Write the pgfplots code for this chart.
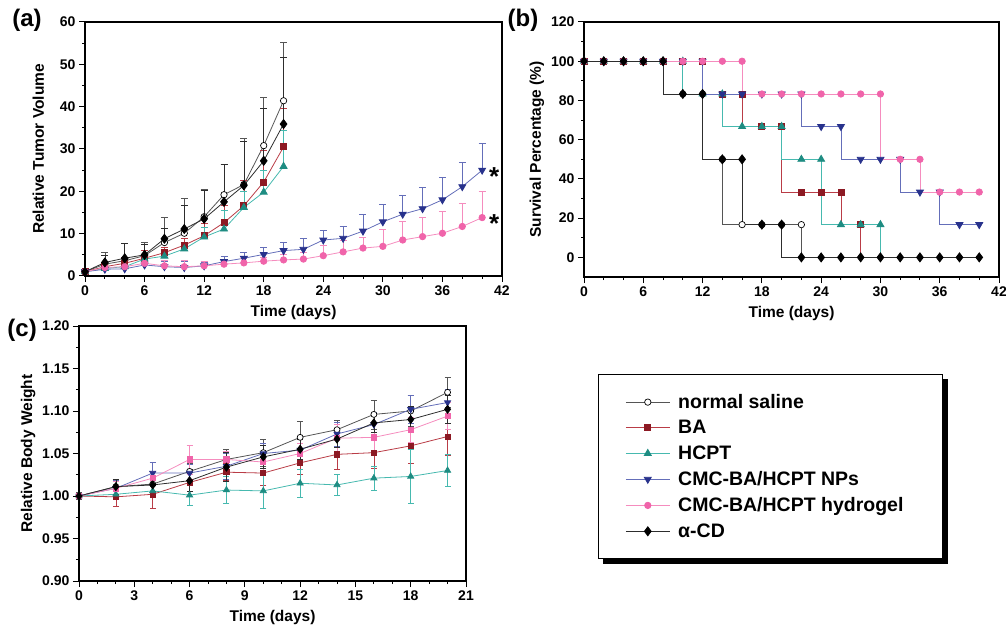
\documentclass[border=0pt]{standalone}
\usepackage{fontspec}
\setmainfont{Liberation Sans}
\usepackage{pgfplots}
\pgfplotsset{compat=1.18}

\definecolor{cSal}{RGB}{85,85,85}
\definecolor{cBAm}{RGB}{140,25,35}
\definecolor{cBAl}{RGB}{185,60,70}
\definecolor{cHCm}{RGB}{30,140,130}
\definecolor{cHCl}{RGB}{70,185,175}
\definecolor{cNPm}{RGB}{40,50,140}
\definecolor{cNPl}{RGB}{100,110,185}
\definecolor{cHGm}{RGB}{240,100,170}
\definecolor{cHGl}{RGB}{245,140,190}
\definecolor{cCDl}{RGB}{45,45,45}

\pgfplotsset{
  panel/.style={
    scale only axis, clip=false, anchor=south west,
    axis line style={line width=1.4pt},
    tick align=outside, xtick pos=bottom, ytick pos=left,
    major tick length=6pt, minor tick length=3pt,
    tick style={line width=1pt, black},
    tick label style={font=\fontsize{14}{16}\selectfont\bfseries},
    label style={font=\fontsize{15.5}{18}\selectfont\bfseries},
    xlabel shift=3pt,
    /pgf/number format/assume math mode=true,
    error bars/error bar style={line width=0.7pt},
    error bars/error mark options={rotate=90, mark size=3.5pt, line width=0.7pt},
  },
  sal/.style={color=cSal, line width=0.8pt, mark=*, mark size=3.2pt,
    mark options={draw=black, fill=white, line width=0.7pt}},
  ba/.style={color=cBAl, line width=0.8pt, mark=square*, mark size=3pt,
    mark options={draw=cBAm, fill=cBAm}},
  hc/.style={color=cHCl, line width=0.8pt, mark=triangle*, mark size=4pt,
    mark options={draw=cHCm, fill=cHCm}},
  np/.style={color=cNPl, line width=0.8pt, mark=triangle*, mark size=4pt,
    mark options={draw=cNPm, fill=cNPm, rotate=180}},
  hg/.style={color=cHGl, line width=0.8pt, mark=*, mark size=3.2pt,
    mark options={draw=cHGm, fill=cHGm}},
  cd/.style={color=cCDl, line width=0.8pt, mark=diamond*, mark size=4.5pt,
    mark options={draw=black, fill=black}},
}

\begin{document}
\begin{tikzpicture}
\path[use as bounding box] (0,0) rectangle (1006pt,624pt);

% ---------- (a) tumor volume ----------
\begin{axis}[panel, at={(85pt,348pt)}, width=417pt, height=254pt,
  xmin=0, xmax=42, ymin=0, ymax=60,
  xtick={0,6,...,42}, ytick={0,10,...,60},
  minor x tick num=2, minor y tick num=1,
  xlabel={Time (days)}, ylabel={Relative Tumor Volume}, ylabel shift=9pt,
  error bars/y dir=plus, error bars/y explicit]

\addplot[sal] table[x=x, y=y, y error=e] {
x y e
0 1.0 0.5
2 2.8 2.7
4 3.6 4.0
6 4.8 3.2
8 7.9 5.9
10 10.1 8.3
12 14.0 6.4
14 19.2 7.1
16 21.6 10.9
18 30.8 11.3
20 41.4 13.9
};
\addplot[ba] table[x=x, y=y, y error=e] {
x y e
0 1.0 0.3
2 2.2 1.0
4 3.0 1.5
6 4.2 1.8
8 5.5 1.2
10 7.3 1.7
12 9.5 3.0
14 12.6 4.2
16 16.6 5.9
18 22.2 7.4
20 30.5 9.1
};
\addplot[hc] table[x=x, y=y, y error=e] {
x y e
0 1.0 0.3
2 1.8 0.7
4 2.2 0.8
6 4.0 1.0
8 4.7 1.3
10 6.4 1.6
12 9.2 2.3
14 11.1 4.4
16 16.2 3.8
18 19.8 5.2
20 25.9 8.6
};
\addplot[np] table[x=x, y=y, y error=e] {
x y e
0 1.0 0.3
2 1.6 0.9
4 1.7 0.8
6 2.6 0.9
8 2.2 1.3
10 2.0 1.5
12 2.4 0.9
14 3.4 1.3
16 4.2 1.5
18 5.1 1.7
20 6.0 2.0
22 6.3 2.5
24 8.5 2.2
26 8.9 2.8
28 10.6 4.0
30 12.8 4.1
32 14.6 4.4
34 15.9 5.0
36 18.0 5.2
38 21.1 5.7
40 25.0 6.4
};
\addplot[hg] table[x=x, y=y, y error=e] {
x y e
0 1.0 0.3
2 2.0 0.8
4 2.2 1.0
6 3.0 1.2
8 2.4 1.3
10 2.2 1.4
12 2.4 1.0
14 2.8 1.0
16 3.1 1.0
18 3.5 1.0
20 3.8 1.2
22 4.0 1.5
24 4.8 2.5
26 5.7 2.8
28 6.6 2.5
30 7.0 4.0
32 8.5 4.3
34 9.3 4.6
36 10.1 5.1
38 11.7 5.5
40 13.8 6.3
};
\addplot[cd] table[x=x, y=y, y error=e] {
x y e
0 1.0 0.4
2 3.2 1.6
4 4.2 3.4
6 5.0 2.5
8 8.8 2.5
10 11.1 5.7
12 13.5 6.7
14 17.5 8.8
16 21.4 10.4
18 27.2 12.3
20 35.9 15.7
};
\node[font=\fontsize{26}{26}\selectfont\bfseries] at (axis cs:40,25) [xshift=12pt, yshift=-6pt] {*};
\node[font=\fontsize{26}{26}\selectfont\bfseries] at (axis cs:40,13.8) [xshift=12pt, yshift=-6pt] {*};
\node[font=\fontsize{24}{24}\selectfont\bfseries] at (rel axis cs:-0.139,1.008) {(a)};
\end{axis}

% ---------- (b) survival ----------
\begin{axis}[panel, at={(584pt,347pt)}, width=415pt, height=255pt,
  xmin=0, xmax=42, ymin=-10, ymax=120,
  xtick={0,6,...,42}, ytick={0,20,...,120},
  minor x tick num=2, minor y tick num=1,
  xlabel={Time (days)}, ylabel={Survival Percentage (\%)},
  every axis plot/.append style={const plot mark right},
  legend image code/.code={%
    \draw[#1, sharp plot, mark=none] (0pt,0pt) -- (44pt,0pt);
    \draw[#1, sharp plot, only marks] plot coordinates {(22pt,0pt)};
    \path (50pt,0pt);},
  legend cell align=left,
  legend style={at={(rel axis cs:0.0337,-0.380)}, anchor=north west,
    name=leg, draw=black, line width=0.8pt, fill=white,
    font=\fontsize{19.5}{22}\selectfont\bfseries,
    inner xsep=27pt, inner ysep=18pt, row sep=6.5pt},
]
\addplot[sal] coordinates {(0,100)(2,100)(4,100)(6,100)(8,100)(10,83.3)(12,83.3)(14,50)(16,16.7)(18,16.7)(20,16.7)(22,16.7)};
\addlegendentry{normal saline}
\addplot[ba] coordinates {(0,100)(2,100)(4,100)(6,100)(8,100)(10,100)(12,100)(14,83.3)(16,83.3)(18,66.7)(20,66.7)(22,33.3)(24,33.3)(26,33.3)(28,16.7)};
\addlegendentry{BA}
\addplot[hc] coordinates {(0,100)(2,100)(4,100)(6,100)(8,100)(10,100)(12,83.3)(14,83.3)(16,66.7)(18,66.7)(20,66.7)(22,50)(24,50)(26,16.7)(28,16.7)(30,16.7)};
\addlegendentry{HCPT}
\addplot[np] coordinates {(0,100)(2,100)(4,100)(6,100)(8,100)(10,100)(12,100)(14,83.3)(16,83.3)(18,83.3)(20,83.3)(22,83.3)(24,66.7)(26,66.7)(28,50)(30,50)(32,50)(34,33.3)(36,33.3)(38,16.7)(40,16.7)};
\addlegendentry{CMC-BA/HCPT NPs}
\addplot[hg] coordinates {(0,100)(2,100)(4,100)(6,100)(8,100)(10,100)(12,100)(14,100)(16,100)(18,83.3)(20,83.3)(22,83.3)(24,83.3)(26,83.3)(28,83.3)(30,83.3)(32,50)(34,50)(36,33.3)(38,33.3)(40,33.3)};
\addlegendentry{CMC-BA/HCPT hydrogel\hspace*{10pt}}
\addplot[sal, no marks, forget plot] coordinates {(22,16.7)(24,0)};
\addplot[ba, no marks, forget plot] coordinates {(28,16.7)(30,0)};
\addplot[hc, no marks, forget plot] coordinates {(30,16.7)(32,0)};
\addplot[cd] coordinates {(0,100)(2,100)(4,100)(6,100)(8,100)(10,83.3)(12,83.3)(14,50)(16,50)(18,16.7)(20,16.7)(22,0)(24,0)(26,0)(28,0)(30,0)(32,0)(34,0)(36,0)(38,0)(40,0)};
\addlegendentry{α-CD}
\node[font=\fontsize{24}{24}\selectfont\bfseries] at (rel axis cs:-0.147,1.008) {(b)};
\end{axis}

% shadow of the legend box
\fill[black] ([yshift=-5pt]leg.north east) rectangle ([xshift=5pt,yshift=-5pt]leg.south east);
\fill[black] ([xshift=5pt]leg.south west) rectangle ([xshift=5pt,yshift=-5pt]leg.south east);

% ---------- (c) body weight ----------
\begin{axis}[panel, at={(79pt,43pt)}, width=387pt, height=255pt,
  xmin=0, xmax=21, ymin=0.9, ymax=1.2,
  xtick={0,3,...,21}, ytick={0.90,0.95,1.00,1.05,1.10,1.15,1.20},
  minor x tick num=2, minor y tick num=1,
  yticklabel style={/pgf/number format/.cd, fixed, fixed zerofill, precision=2},
  xlabel={Time (days)}, ylabel={Relative Body Weight},
  error bars/y dir=both, error bars/y explicit,
  error bars/error mark options={rotate=90, mark size=3pt, line width=0.7pt},
]
\addplot[sal, mark size=3pt] table[x=x, y=y, y error=e] {
x y e
0 1.000 0.004
2 1.011 0.009
4 1.014 0.010
6 1.029 0.010
8 1.043 0.012
10 1.051 0.016
12 1.069 0.019
14 1.078 0.011
16 1.096 0.017
18 1.100 0.018
20 1.122 0.018
};
\addplot[ba, mark size=2.6pt] table[x=x, y=y, y error=e] {
x y e
0 1.000 0.003
2 0.999 0.011
4 1.002 0.016
6 1.016 0.010
8 1.028 0.010
10 1.027 0.015
12 1.039 0.014
14 1.049 0.018
16 1.051 0.018
18 1.059 0.021
20 1.070 0.022
};
\addplot[hc, mark size=3.5pt] table[x=x, y=y, y error=e] {
x y e
0 1.000 0.003
2 1.002 0.005
4 1.006 0.006
6 1.001 0.012
8 1.007 0.016
10 1.006 0.021
12 1.015 0.016
14 1.013 0.012
16 1.021 0.014
18 1.023 0.032
20 1.030 0.019
};
\addplot[np, mark size=3.5pt] table[x=x, y=y, y error=e] {
x y e
0 1.000 0.003
2 1.009 0.010
4 1.027 0.013
6 1.027 0.010
8 1.035 0.015
10 1.050 0.012
12 1.054 0.014
14 1.073 0.014
16 1.084 0.014
18 1.102 0.017
20 1.110 0.015
};
\addplot[hg, mark=square*, mark size=2.6pt] table[x=x, y=y, y error=e] {
x y e
0 1.000 0.003
2 1.009 0.008
4 1.021 0.008
6 1.043 0.017
8 1.043 0.010
10 1.040 0.010
12 1.050 0.012
14 1.068 0.016
16 1.069 0.015
18 1.078 0.015
20 1.094 0.016
};
\addplot[cd, mark size=4pt] table[x=x, y=y, y error=e] {
x y e
0 1.000 0.003
2 1.011 0.009
4 1.013 0.008
6 1.018 0.013
8 1.034 0.017
10 1.046 0.014
12 1.055 0.012
14 1.067 0.010
16 1.086 0.011
18 1.090 0.015
20 1.102 0.017
};
\node[font=\fontsize{24}{24}\selectfont\bfseries] at (rel axis cs:-0.147,0.984) {(c)};
\end{axis}
\end{tikzpicture}
\end{document}
